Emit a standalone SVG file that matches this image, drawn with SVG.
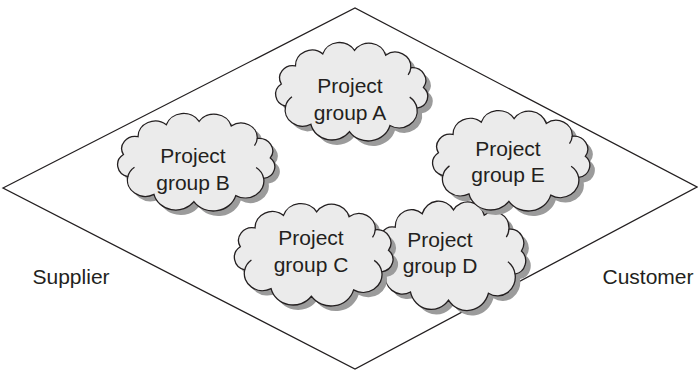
<svg xmlns="http://www.w3.org/2000/svg" xmlns:xlink="http://www.w3.org/1999/xlink" width="698" height="370" viewBox="0 0 698 370">
<style>
  .bg{fill:#ffffff}
  .diamond{fill:none;stroke:#231f20;stroke-width:1.3}
  .shadow{fill:#9b9b9b;stroke:none}
  .cloud{fill:#ebebeb;stroke:#231f20;stroke-width:1.3}
  .inner{fill:none;stroke:#231f20;stroke-width:1.3}
  .lbl{font-family:"Liberation Sans",Arial,sans-serif;font-size:21px;fill:#231f20;text-anchor:middle}
  .side{font-family:"Liberation Sans",Arial,sans-serif;font-size:21px;fill:#231f20}
</style>
<defs>
  <path id="cloudShape" vector-effect="non-scaling-stroke" d="M -67,-7.1 A 12.4 12.4 0 0 1 -53.6,-25.3 A 15.7 15.7 0 0 1 -27.7,-37.5 A 16.7 16.7 0 0 1 2.4,-41 A 16.4 16.4 0 0 1 31.9,-36.2 A 14.8 14.8 0 0 1 55.7,-23.5 A 12.8 12.8 0 0 1 67.7,-3.6 A 12 12 0 0 1 61.6,17.3 A 17.1 17.1 0 0 1 36,34.8 A 21.4 21.4 0 0 1 -2.4,41 A 20.5 20.5 0 0 1 -39,33.6 A 16.6 16.6 0 0 1 -63,15.4 A 12.6 12.6 0 0 1 -67,-7.1 Z"/>
  <path id="cloudInner" vector-effect="non-scaling-stroke" d="M -63,15.4 A 16.6 16.6 0 0 1 -56.9,5.8 M 61.6,17.3 A 17.1 17.1 0 0 0 54.7,6.2 M 55.7,-23.5 A 14.8 14.8 0 0 1 53.2,-16.2"/>
</defs>
<rect class="bg" x="0" y="0" width="698" height="370"/>
<g id="market">
  <polygon class="diamond" points="3,188 355,8 697,187 355,369"/>
</g>
<g id="cloud-a">
  <use xlink:href="#cloudShape" class="shadow" transform="translate(357,96) scale(1.055,0.99)"/>
  <use xlink:href="#cloudShape" class="cloud" transform="translate(352,91) scale(1.055,0.99)"/>
  <use xlink:href="#cloudInner" class="inner" transform="translate(352,91) scale(1.055,0.99)"/>
  <text class="lbl" x="350" y="93">Project</text>
  <text class="lbl" x="350" y="120">group A</text>
</g>
<g id="cloud-b">
  <use xlink:href="#cloudShape" class="shadow" transform="translate(201.5,166.5) scale(1.09,0.98)"/>
  <use xlink:href="#cloudShape" class="cloud" transform="translate(196.5,161.5) scale(1.09,0.98)"/>
  <use xlink:href="#cloudInner" class="inner" transform="translate(196.5,161.5) scale(1.09,0.98)"/>
  <text class="lbl" x="193" y="163">Project</text>
  <text class="lbl" x="193" y="190">group B</text>
</g>
<g id="cloud-d">
  <use xlink:href="#cloudShape" class="shadow" transform="translate(456,260) scale(1.04,1.1)"/>
  <use xlink:href="#cloudShape" class="cloud" transform="translate(451,255) scale(1.04,1.1)"/>
  <use xlink:href="#cloudInner" class="inner" transform="translate(451,255) scale(1.04,1.1)"/>
  <text class="lbl" x="440" y="247">Project</text>
  <text class="lbl" x="440" y="273">group D</text>
</g>
<g id="cloud-e">
  <use xlink:href="#cloudShape" class="shadow" transform="translate(516.5,165) scale(1.09,1.01)"/>
  <use xlink:href="#cloudShape" class="cloud" transform="translate(511.5,160) scale(1.09,1.01)"/>
  <use xlink:href="#cloudInner" class="inner" transform="translate(511.5,160) scale(1.09,1.01)"/>
  <text class="lbl" x="508" y="156">Project</text>
  <text class="lbl" x="508" y="182">group E</text>
</g>
<g id="cloud-c">
  <use xlink:href="#cloudShape" class="shadow" transform="translate(319,259) scale(1.10,1.03)"/>
  <use xlink:href="#cloudShape" class="cloud" transform="translate(314,254) scale(1.10,1.03)"/>
  <use xlink:href="#cloudInner" class="inner" transform="translate(314,254) scale(1.10,1.03)"/>
  <text class="lbl" x="311" y="245">Project</text>
  <text class="lbl" x="311" y="272">group C</text>
</g>
<g id="supplier">
  <text class="side" x="32.5" y="284">Supplier</text>
</g>
<g id="customer">
  <text class="side" x="602.5" y="284">Customer</text>
</g>
</svg>
